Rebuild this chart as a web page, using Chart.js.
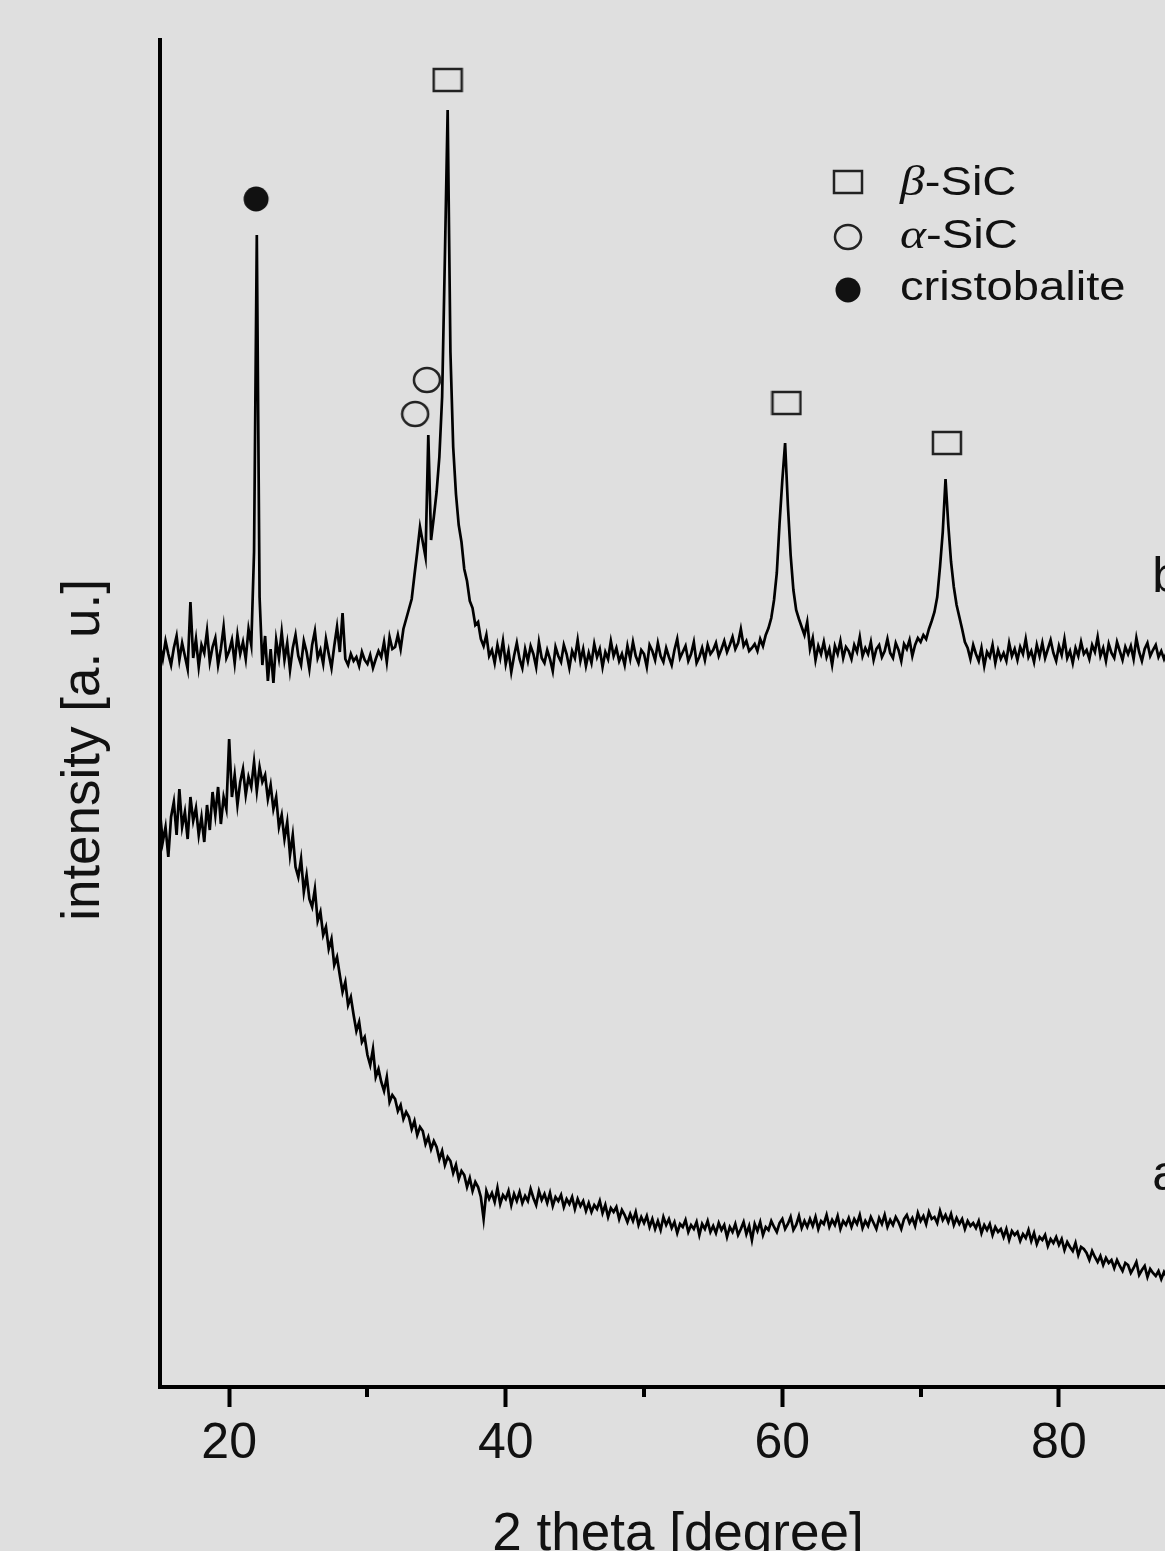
<!DOCTYPE html>
<html>
<head>
<meta charset="utf-8">
<title>XRD patterns a / b</title>
<script src="https://cdn.jsdelivr.net/npm/chart.js@4.4.0/dist/chart.umd.min.js"></script>
<style>
  html, body { margin: 0; padding: 0; background: #dfdfdf; }
  #wrap { width: 1165px; height: 1551px; }
</style>
</head>
<body>
<div id="wrap"><canvas id="xrd" width="1165" height="1551"></canvas></div>
<script>
// 2 theta sampling of both patterns: 15.0, 15.2, ... 87.8
const thetaStart = 15;
const thetaStep = 0.2;

// pattern b (after treatment) - intensity, one row per degree
const patternB = [
  741, 728, 746, 733, 722,   // 15
  739, 751, 727, 744, 731,   // 16
  718, 785, 729, 748, 720,   // 17
  742, 734, 756, 725, 740,   // 18
  749, 722, 738, 760, 729,   // 19
  736, 747, 724, 752, 733,   // 20
  745, 728, 758, 742, 835,   // 21
  1152, 790, 722, 751, 706,  // 22
  738, 704, 747, 729, 755,   // 23
  727, 744, 717, 739, 752,   // 24
  731, 722, 746, 735, 718,   // 25
  742, 756, 729, 737, 723,   // 26
  748, 733, 719, 741, 760,   // 27
  735, 774, 728, 722, 733,   // 28
  726, 730, 721, 735, 727,   // 29
  723, 732, 719, 728, 736,   // 30
  730, 745, 725, 750, 738,   // 31
  740, 752, 738, 758, 768,   // 32
  778, 788, 812, 835, 860,   // 33
  845, 830, 952, 847, 870,   // 34
  895, 930, 990, 1130, 1277, // 35
  1035, 940, 893, 862, 845,  // 36
  818, 806, 786, 779, 762,   // 37
  765, 748, 741, 752, 731,   // 38
  737, 724, 742, 729, 746,   // 39
  723, 736, 715, 731, 744,   // 40
  728, 719, 738, 726, 741,   // 41
  733, 720, 745, 729, 724,   // 42
  737, 728, 716, 740, 731,   // 43
  725, 742, 733, 719, 736,   // 44
  729, 747, 726, 738, 721,   // 45
  734, 724, 743, 730, 738,   // 46
  720, 735, 728, 746, 731,   // 47
  739, 726, 733, 722, 741,   // 48
  728, 745, 731, 724, 737,   // 49
  733, 720, 742, 736, 727,   // 50
  744, 731, 725, 739, 730,   // 51
  722, 737, 748, 729, 735,   // 52
  741, 726, 733, 745, 724,   // 53
  730, 739, 727, 742, 733,   // 54
  737, 744, 731, 738, 746,   // 55
  735, 742, 750, 738, 744,   // 56
  758, 741, 746, 736, 739,   // 57
  743, 736, 748, 741, 752,   // 58
  759, 769, 787, 814, 864,   // 59
  907, 944, 882, 832, 797,   // 60
  777, 768, 760, 752, 765,   // 61
  738, 749, 727, 741, 733,   // 62
  745, 730, 738, 722, 741,   // 63
  733, 746, 729, 740, 736,   // 64
  728, 742, 735, 750, 731,   // 65
  739, 733, 745, 727, 738,   // 66
  742, 730, 736, 748, 734,   // 67
  729, 744, 737, 726, 743,   // 68
  738, 747, 731, 742, 749,   // 69
  745, 752, 748, 758, 766,   // 70
  775, 790, 820, 855, 908,   // 71
  862, 825, 800, 782, 770,   // 72
  758, 745, 739, 728, 742,   // 73
  733, 726, 739, 721, 735,   // 74
  730, 742, 724, 737, 728,   // 75
  734, 726, 744, 731, 738,   // 76
  727, 740, 733, 748, 730,   // 77
  736, 725, 742, 731, 744,   // 78
  729, 738, 747, 734, 726,   // 79
  741, 732, 748, 729, 736,   // 80
  724, 739, 731, 745, 733,   // 81
  737, 728, 742, 735, 750,   // 82
  731, 739, 726, 743, 734,   // 83
  729, 745, 736, 727, 740,   // 84
  733, 741, 728, 749, 735,   // 85
  726, 738, 744, 731, 737,   // 86
  742, 730, 736, 728, 735    // 87
];

// pattern a (as prepared, amorphous) - same sampling
const patternA = [
  575, 545, 560, 530, 570,   // 15
  585, 552, 598, 560, 575,   // 16
  548, 590, 566, 579, 552,   // 17
  570, 545, 582, 557, 595,   // 18
  572, 600, 563, 590, 578,   // 19
  648, 590, 612, 582, 605,   // 20
  618, 592, 610, 600, 625,   // 21
  596, 620, 605, 612, 588,   // 22
  602, 578, 590, 560, 572,   // 23
  548, 565, 532, 552, 520,   // 24
  510, 528, 495, 512, 488,   // 25
  480, 498, 466, 475, 452,   // 26
  460, 438, 448, 422, 430,   // 27
  412, 395, 405, 382, 390,   // 28
  372, 356, 365, 345, 350,   // 29
  332, 322, 338, 310, 318,   // 30
  305, 296, 310, 285, 292,   // 31
  288, 276, 282, 268, 275,   // 32
  270, 258, 266, 252, 260,   // 33
  256, 243, 250, 238, 246,   // 34
  240, 228, 236, 222, 230,   // 35
  226, 214, 222, 208, 216,   // 36
  212, 200, 209, 196, 205,   // 37
  200, 190, 168, 196, 188,   // 38
  194, 185, 199, 183, 192,   // 39
  188, 196, 182, 193, 186,   // 40
  195, 184, 191, 186, 198,   // 41
  189, 182, 196, 187, 193,   // 42
  184, 194, 181, 190, 186,   // 43
  192, 180, 188, 183, 190,   // 44
  178, 188, 181, 186, 176,   // 45
  184, 175, 182, 178, 186,   // 46
  174, 182, 170, 179, 175,   // 47
  180, 168, 177, 172, 165,   // 48
  173, 166, 175, 162, 170,   // 49
  164, 171, 160, 168, 158,   // 50
  166, 157, 170, 162, 168,   // 51
  159, 165, 154, 163, 160,   // 52
  167, 155, 162, 158, 165,   // 53
  152, 163, 158, 166, 155,   // 54
  161, 154, 164, 157, 162,   // 55
  150, 160, 155, 163, 152,   // 56
  158, 165, 153, 161, 147,   // 57
  163, 156, 165, 152, 160,   // 58
  157, 166, 160, 155, 164,   // 59
  168, 158, 163, 170, 157,   // 60
  162, 171, 159, 166, 160,   // 61
  168, 161, 170, 158, 166,   // 62
  163, 172, 160, 167, 162,   // 63
  171, 158, 166, 162, 169,   // 64
  160, 168, 163, 172, 159,   // 65
  166, 161, 170, 164, 158,   // 66
  169, 163, 172, 160, 167,   // 67
  162, 170, 165, 158, 168,   // 68
  172, 164, 169, 161, 174,   // 69
  166, 171, 163, 175, 168,   // 70
  170, 164, 176, 167, 172,   // 71
  165, 173, 162, 169, 163,   // 72
  168, 158, 166, 161, 164,   // 73
  159, 166, 154, 162, 157,   // 74
  163, 152, 160, 155, 158,   // 75
  150, 158, 147, 156, 152,   // 76
  155, 146, 153, 149, 157,   // 77
  146, 154, 143, 150, 147,   // 78
  152, 141, 148, 144, 150,   // 79
  142, 148, 137, 145, 140,   // 80
  136, 144, 132, 140, 138,   // 81
  134, 127, 136, 130, 125,   // 82
  131, 122, 129, 124, 127,   // 83
  119, 127, 121, 116, 124,   // 84
  122, 114, 119, 125, 112,   // 85
  117, 121, 110, 118, 114,   // 86
  111, 116, 108, 115, 110    // 87
];

// phase markers above the peaks of pattern b
const betaSiCX = [35.8, 60.3, 71.9];
const betaSiCY = [1307, 984, 944];
const alphaSiCX = [33.45, 34.3];
const alphaSiCY = [973, 1007];
const cristobaliteX = [21.95];
const cristobaliteY = [1188];

// curve names at the right edge
const curveNames = ['a', 'b'];
const curveNameX = [86.75, 86.75];
const curveNameY = [197, 795];

const majorTicks = [20, 40, 60, 80];
const minorTicks = [30, 50, 70];
const legendNames = [['β', '-SiC'], ['α', '-SiC'], ['', 'cristobalite']];

const xMin = 15, xMax = 87.67, yMin = 0, yMax = 1347;
const sansFont = '"Liberation Sans", Arial, Helvetica, sans-serif';
const ink = '#111';

const twoTheta = patternB.map((v, i) => +(thetaStart + i * thetaStep).toFixed(1));
const toPoints = (xs, ys) => xs.map((x, i) => ({x: x, y: ys[i]}));

// marker images (square, open ring, filled dot)
function makeMark(kind) {
    const c = document.createElement('canvas');
    const g = c.getContext('2d');
    if (kind === 'square') {
        c.width = 32; c.height = 26;
        g.strokeStyle = '#222'; g.lineWidth = 2.5;
        g.strokeRect(2, 2, 28, 22);
    } else if (kind === 'ring') {
        c.width = 30; c.height = 28;
        g.strokeStyle = '#222'; g.lineWidth = 2.5;
        g.beginPath();
        g.ellipse(15, 14, 13, 12, 0, 0, Math.PI * 2);
        g.stroke();
    } else {
        c.width = 28; c.height = 28;
        g.fillStyle = '#111';
        g.beginPath();
        g.arc(14, 14, 12.5, 0, Math.PI * 2);
        g.fill();
    }
    return c;
}
const squareMark = makeMark('square');
const ringMark = makeMark('ring');
const dotMark = makeMark('dot');

const paperPlugin = {
    id: 'paper',
    beforeDraw(chart) {
        const ctx = chart.ctx;
        ctx.save();
        ctx.fillStyle = '#dfdfdf';
        ctx.fillRect(0, 0, chart.width, chart.height);
        ctx.restore();
    },
    afterDraw(chart) {
        const ctx = chart.ctx;
        const xs = chart.scales.x, ys = chart.scales.y;
        ctx.save();
        ctx.fillStyle = ink;
        ctx.textBaseline = 'alphabetic';

        // axis titles
        ctx.font = '53px ' + sansFont;
        ctx.textAlign = 'center';
        ctx.fillText('2 theta [degree]', 678, 1550);
        ctx.save();
        ctx.translate(99, 750);
        ctx.rotate(-Math.PI / 2);
        ctx.fillText('intensity [a. u.]', 0, 0);
        ctx.restore();

        // curve names
        ctx.textAlign = 'left';
        ctx.font = '50px ' + sansFont;
        curveNames.forEach((n, i) => {
            ctx.fillText(n, xs.getPixelForValue(curveNameX[i]), ys.getPixelForValue(curveNameY[i]));
        });

        // legend
        const marks = [squareMark, ringMark, dotMark];
        const rowY = [182, 237, 290];
        const baseY = [195, 248, 300];
        legendNames.forEach((parts, i) => {
            const m = marks[i];
            ctx.drawImage(m, 848 - m.width / 2, rowY[i] - m.height / 2);
            ctx.save();
            ctx.translate(900, baseY[i]);
            ctx.scale(1.18, 1);
            let cx = 0;
            if (parts[0]) {
                ctx.font = 'italic 42px "Liberation Serif", "Times New Roman", serif';
                ctx.fillText(parts[0], cx, 0);
                cx += ctx.measureText(parts[0]).width;
            }
            ctx.font = '40px ' + sansFont;
            ctx.fillText(parts[1], cx, 0);
            ctx.restore();
        });
        ctx.restore();
    }
};

const lineStyle = {
    borderColor: '#000',
    borderWidth: 2.7,
    pointRadius: 0,
    tension: 0,
    fill: false
};
const markStyle = (img) => ({
    showLine: false,
    pointStyle: img,
    pointRadius: 14,
    borderWidth: 0
});

new Chart(document.getElementById('xrd'), {
    type: 'line',
    data: {
        datasets: [
            Object.assign({label: 'b', data: toPoints(twoTheta, patternB)}, lineStyle),
            Object.assign({label: 'a', data: toPoints(twoTheta, patternA)}, lineStyle),
            Object.assign({label: 'β-SiC', data: toPoints(betaSiCX, betaSiCY)}, markStyle(squareMark)),
            Object.assign({label: 'α-SiC', data: toPoints(alphaSiCX, alphaSiCY)}, markStyle(ringMark)),
            Object.assign({label: 'cristobalite', data: toPoints(cristobaliteX, cristobaliteY)}, markStyle(dotMark))
        ]
    },
    options: {
        responsive: false,
        animation: false,
        events: [],
        layout: { autoPadding: false, padding: { top: 40, left: 0, right: 0, bottom: 0 } },
        plugins: {
            legend: { display: false },
            tooltip: { enabled: false }
        },
        scales: {
            xMinor: {
                type: 'linear',
                position: 'bottom',
                weight: -1,
                min: xMin, max: xMax,
                afterBuildTicks: s => { s.ticks = minorTicks.map(v => ({value: v})); },
                afterFit: s => { s.height = 0; },
                ticks: { display: false },
                border: { display: false },
                grid: { drawOnChartArea: false, drawTicks: true, tickLength: 10, tickWidth: 4, tickColor: '#000', lineWidth: 0 }
            },
            x: {
                type: 'linear',
                position: 'bottom',
                min: xMin, max: xMax,
                afterBuildTicks: s => { s.ticks = majorTicks.map(v => ({value: v})); },
                afterFit: s => { s.height = 164; },
                ticks: {
                    color: ink,
                    padding: 7,
                    maxRotation: 0,
                    font: { size: 50, family: sansFont }
                },
                border: { display: true, color: '#000', width: 4 },
                grid: { drawOnChartArea: false, drawTicks: true, tickLength: 20, tickWidth: 4, tickColor: '#000' }
            },
            y: {
                type: 'linear',
                position: 'left',
                min: yMin, max: yMax,
                afterFit: s => { s.width = 160; },
                ticks: { display: false },
                border: { display: true, color: '#000', width: 4 },
                grid: { drawOnChartArea: false, drawTicks: false }
            }
        }
    },
    plugins: [paperPlugin]
});
</script>
</body>
</html>
